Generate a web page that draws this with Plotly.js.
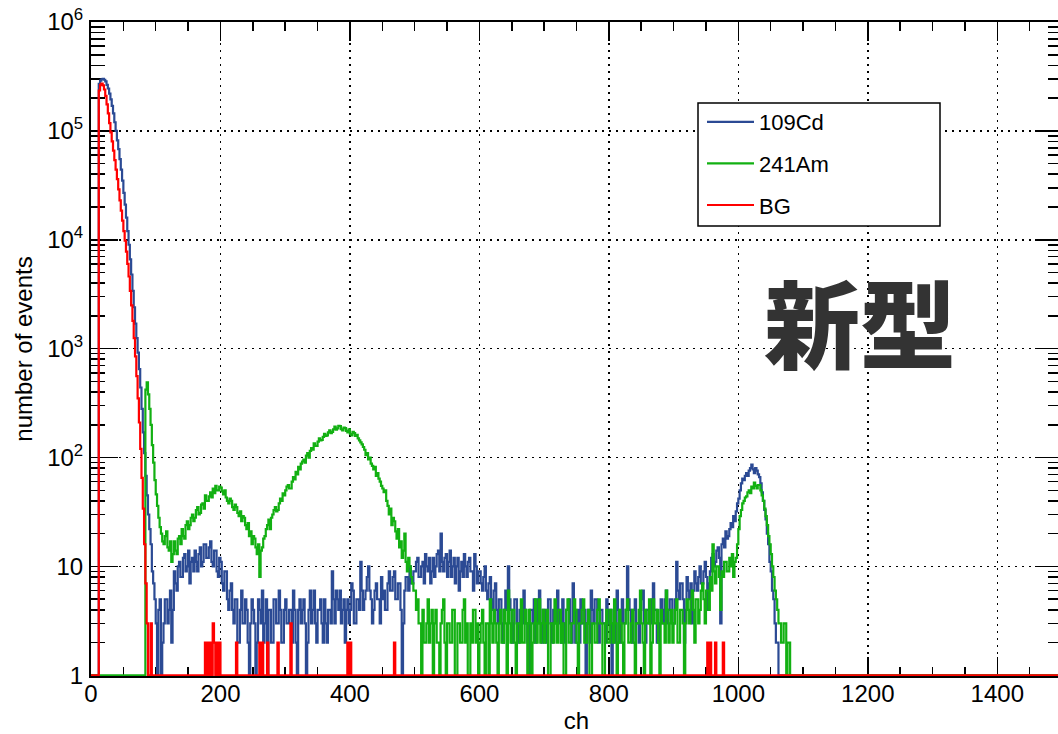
<!DOCTYPE html>
<html>
<head>
<meta charset="utf-8">
<script src="https://cdn.plot.ly/plotly-3.0.1.min.js"></script>
<style>
html,body{margin:0;padding:0;overflow:hidden;background:#fff;}
#chart{width:1072px;height:734px;}
</style>
</head>
<body>
<div id="chart"></div>
<script>
// ---- data: counts per 2-channel bin, starting at ch 0 (one row = 100 ch) ----
const binWidth = 2;
const chMax = 1500;

const cd109Counts = [
  0,0,0,0,0,0,270000,290000,298000,300000,295000,285000,265000,245000,220000,195000,170000,145000,120000,100000,82000,68000,55000,44000,35000,27000,21000,16000,12000,9000,6600,4800,3400,2400,1700,1250,920,650,440,280,170,110,68,45,30,22,16,9,7,5,
  3,1,4,5,1,2,3,5,5,3,4,6,2,4,9,7,6,10,11,8,8,12,13,9,10,14,7,11,12,9,14,11,9,13,15,10,11,16,16,12,12,15,17,11,10,14,14,9,8,12,
  11,7,6,9,9,5,4,6,7,4,3,5,5,2,2,4,6,3,3,5,4,2,1,3,5,4,3,1,2,5,4,3,6,2,3,5,1,4,4,2,2,5,5,3,3,6,4,2,2,4,
  5,3,3,4,4,2,6,4,2,1,4,5,3,4,5,3,1,2,4,6,3,4,6,3,2,4,4,5,3,2,5,3,2,4,4,3,9,5,3,6,5,4,6,3,4,5,2,4,5,3,
  4,7,6,3,3,5,5,4,11,6,4,5,6,8,10,6,5,3,4,6,7,5,5,3,8,5,6,4,4,7,9,6,6,8,9,5,5,7,7,4,1,3,6,8,8,6,10,7,7,9,
  9,11,12,8,8,10,11,7,13,10,9,12,7,9,12,8,10,13,14,9,20,11,9,12,13,8,11,14,8,10,12,7,10,12,6,9,11,8,13,10,8,11,12,9,9,6,13,10,7,9,
  9,7,6,8,10,6,5,7,8,5,4,6,7,4,3,5,5,3,2,4,6,4,10,5,4,2,3,5,5,3,2,4,4,3,6,4,3,2,1,4,4,3,5,2,3,5,6,3,2,4,
  4,2,3,5,5,3,2,4,4,3,6,4,3,2,5,3,2,4,4,5,3,2,7,4,2,3,4,2,5,3,3,4,1,3,4,2,6,4,3,5,5,3,2,4,4,3,3,2,5,4,
  3,4,1,3,4,2,6,4,2,3,5,3,3,4,10,5,4,3,2,4,5,3,3,2,4,5,6,3,2,4,4,3,3,5,7,4,4,2,2,3,5,4,3,5,6,3,4,5,5,3,
  3,5,11,6,5,7,7,5,2,4,8,6,5,7,3,6,9,7,6,8,10,7,7,9,11,8,4,7,9,12,13,10,11,14,15,12,3,16,18,15,21,18,19,22,25,23,29,26,32,38,
  42,50,58,64,62,68,72,68,76,80,86,78,72,80,76,70,66,58,48,40,33,27,20,16,11,9,6,5,3,2,2,1
];

const am241Counts = [
  0,0,0,0,0,0,0,0,0,0,0,0,0,0,0,0,0,0,0,0,0,0,0,0,0,0,0,0,0,0,0,0,0,0,0,0,0,0,0,0,0,0,420,490,380,280,200,130,90,62,
  46,36,28,23,20,17,16,19,21,15,14,17,11,13,17,14,13,18,19,16,22,19,18,24,26,22,24,28,30,26,28,33,35,30,31,37,38,34,45,40,40,44,48,43,52,47,55,50,50,54,
  53,49,46,50,43,40,38,42,40,35,33,37,35,31,29,32,26,29,28,24,22,25,19,21,16,19,18,15,13,16,8,14,15,18,19,22,24,27,22,28,30,33,35,32,33,38,42,40,47,45,
  50,54,56,52,52,60,66,63,74,70,82,78,88,92,96,90,104,110,100,115,122,118,135,128,128,140,150,144,145,155,165,158,160,170,178,168,172,182,192,180,185,196,195,182,178,188,186,176,170,182,
  165,160,172,168,158,162,150,144,138,132,125,118,105,110,96,100,88,84,78,82,68,72,64,60,55,52,48,50,40,36,30,34,24,28,26,21,18,22,15,17,12,14,20,11,9,12,10,8,7,6,
  6,4,5,3,3,1,4,2,2,3,5,2,3,4,1,3,4,2,2,1,3,4,5,2,1,3,3,2,2,4,4,1,1,3,3,2,2,4,5,2,3,1,1,3,2,4,4,2,3,1,
  2,3,4,2,1,3,3,1,5,3,2,4,3,2,1,3,4,2,2,4,3,1,6,3,2,4,4,2,1,3,3,2,5,2,2,4,3,1,4,3,1,2,3,5,2,3,5,2,3,4,
  2,3,4,1,1,3,3,2,5,3,2,4,4,2,3,1,1,4,5,2,2,3,3,5,4,2,1,3,3,4,5,2,2,3,4,1,1,3,3,2,2,4,5,3,3,1,1,3,4,2,
  2,4,3,2,5,3,1,2,4,3,2,1,3,4,5,2,2,3,4,2,1,3,3,4,6,3,2,1,4,3,3,5,1,2,5,3,3,4,2,1,4,3,3,2,6,4,2,3,4,2,
  3,4,5,2,2,4,4,3,1,3,5,4,3,5,6,4,2,5,5,3,4,6,7,5,3,6,6,4,8,6,16,9,7,10,10,8,4,9,8,11,11,9,9,12,10,13,8,11,12,16,
  22,29,33,38,40,43,44,48,50,47,54,52,59,55,52,56,56,50,45,40,34,29,24,19,16,13,10,8,6,5,4,3,3,2,2,3,3,1,2,2
];

const bgPeakCounts = [
  0,0,0,0,0,0,235000,265000,272000,262000,240000,210000,175000,145000,118000,97000,80000,66000,54000,44000,36000,29000,23000,18500,15000,12000,9800,7800,6000,4600,3400,2500,1800,1250,850,560,350,210,120,65,34,16,7,3,1,0,3,0,0,0
];
const bgSpikeCh = [176,180,184,188,190,194,198,224,260,264,272,288,308,396,400,468,952,956,964,976];
const bgSpikeCounts = [2,2,2,3,2,2,2,2,2,2,2,2,3,2,2,2,2,2,2,2];

const seriesNames = ['109Cd', '241Am', 'BG'];
const seriesColors = ['#2b4a94', '#12b012', '#ff0000'];

const yTickVals = [1, 10, 100, 1000, 10000, 100000, 1000000];
const yTickText = ['1', '10', '10<sup>2</sup>', '10<sup>3</sup>', '10<sup>4</sup>', '10<sup>5</sup>', '10<sup>6</sup>'];

// ---- build histogram steps ----
const nBins = Math.round(chMax / binWidth);
function fullCounts(arr) {
  const out = new Array(nBins).fill(0);
  arr.forEach((v, i) => { if (i < nBins) out[i] = v; });
  return out;
}
const bgCounts = fullCounts(bgPeakCounts);
bgSpikeCh.forEach((ch, k) => { bgCounts[ch / binWidth] = bgSpikeCounts[k]; });

function steps(counts) {
  const xs = [], ys = [];
  for (let i = 0; i < nBins; i++) {
    xs.push(i * binWidth);
    ys.push(Math.max(counts[i], 1)); // empty bins sit on the frame bottom, as in ROOT
  }
  xs.push(nBins * binWidth);
  ys.push(ys[ys.length - 1]);
  return {x: xs, y: ys};
}

const allCounts = [fullCounts(cd109Counts), fullCounts(am241Counts), bgCounts];
const traces = allCounts.map((c, k) => {
  const s = steps(c);
  return {
    type: 'scatter', mode: 'lines', x: s.x, y: s.y,
    name: seriesNames[k], legendgroup: 'g' + k,
    line: {shape: 'hv', color: seriesColors[k], width: 2.2},
    hoverinfo: 'skip'
  };
});

const yMinor = [];
for (let d = 0; d < 6; d++) for (let m = 2; m <= 9; m++) yMinor.push(m * Math.pow(10, d));

const font = '"Liberation Sans", Arial, Helvetica, sans-serif';
const layout = {
  width: 1072, height: 734,
  margin: {l: 91, r: 10, t: 22, b: 58, pad: 0},
  paper_bgcolor: '#ffffff', plot_bgcolor: '#ffffff',
  font: {family: font, size: 24, color: '#000'},
  showlegend: true,
  legend: {
    x: (702 - 91) / 971, y: 1 - (101 - 22) / 654, xanchor: 'left', yanchor: 'top',
    bgcolor: 'rgba(0,0,0,0)', borderwidth: 0, font: {family: font, size: 22, color: '#000'},
    tracegroupgap: 10, itemwidth: 47
  },
  xaxis: {
    range: [0, chMax], showline: true, linecolor: '#000', linewidth: 2, mirror: 'allticks',
    ticks: 'inside', ticklen: 19, tickwidth: 1.5, tickcolor: '#000', dtick: 200, tick0: 0,
    minor: {dtick: 50, ticklen: 9, tickwidth: 1.5, tickcolor: '#000', ticks: 'inside', showgrid: false},
    showgrid: true, gridcolor: '#000', gridwidth: 1.5, griddash: '2px,5px',
    zeroline: false, layer: 'below traces', fixedrange: true,
    tickfont: {family: font, size: 24}, ticklabelstandoff: -5,
    title: {text: 'ch', font: {family: font, size: 24}, standoff: 15}
  },
  yaxis: {
    type: 'log', range: [-0.006, 6], showline: true, linecolor: '#000', linewidth: 2, mirror: 'allticks',
    tickmode: 'array', tickvals: yTickVals, ticktext: yTickText,
    ticks: 'inside', ticklen: 27, tickwidth: 1.5, tickcolor: '#000',
    minor: {tickmode: 'array', tickvals: yMinor, ticklen: 14, tickwidth: 1.5, tickcolor: '#000', ticks: 'inside', showgrid: false},
    showgrid: true, gridcolor: '#000', gridwidth: 1.5, griddash: '2px,5px',
    zeroline: false, layer: 'below traces', fixedrange: true,
    tickfont: {family: font, size: 24}, ticklabelstandoff: 1,
    title: {text: 'number of events', font: {family: font, size: 24}, standoff: 8}
  },
  shapes: [{
    type: 'rect', xref: 'paper', yref: 'paper', layer: 'above',
    x0: (698 - 91) / 971, x1: (940 - 91) / 971,
    y0: 1 - (226 - 22) / 654, y1: 1 - (103 - 22) / 654,
    fillcolor: '#ffffff', line: {color: '#000', width: 1.5}
  }],
  annotations: [{
    xref: 'paper', yref: 'paper', x: (860 - 91) / 971, y: 1 - (319 - 22) / 654,
    xanchor: 'center', yanchor: 'middle', showarrow: false,
    text: '新型',
    font: {family: '"Noto Sans CJK JP", "Noto Sans CJK SC", sans-serif', size: 96, color: '#333333', weight: 900}
  }]
};

Plotly.newPlot('chart', traces, layout, {staticPlot: true, displayModeBar: false});
</script>
</body>
</html>
